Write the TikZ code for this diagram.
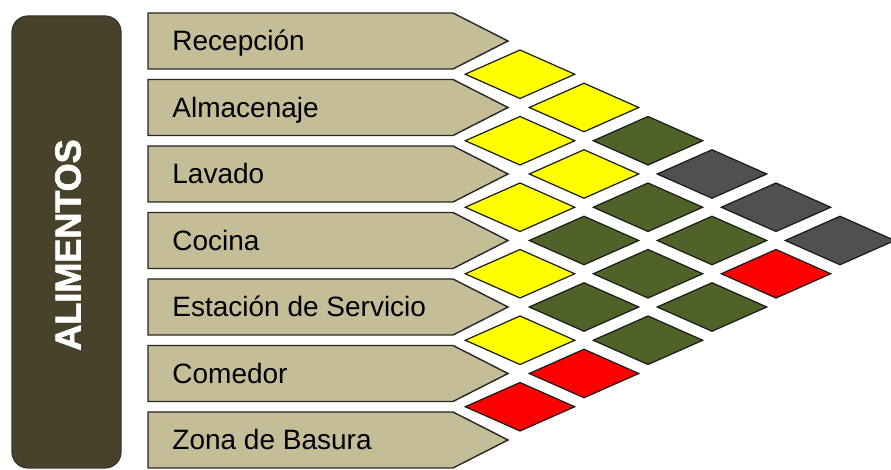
\documentclass[tikz,border=0pt]{standalone}
\usepackage{fontspec}
\setmainfont{Liberation Sans}
\newfontfamily\heavyfont[FakeBold=2]{Liberation Sans Bold}
\usepackage{tikz}
\usetikzlibrary{shapes.geometric}
\definecolor{areaColor}{RGB}{196,189,151}
\definecolor{sideColor}{RGB}{73,66,43}
\definecolor{yellowColor}{RGB}{255,255,0}
\definecolor{oliveColor}{RGB}{79,98,40}
\definecolor{grayColor}{RGB}{80,80,80}
\definecolor{redColor}{RGB}{255,0,0}

\begin{document}
\begin{tikzpicture}[
    x=0.5pt, y=-0.5pt,
    area/.style={draw=black!85, line width=0.7pt, fill=areaColor},
    txt/.style={anchor=base west, inner sep=0pt, font=\fontsize{14pt}{16pt}\selectfont},
    side/.style={rectangle, rounded corners=8pt, draw=black!80, line width=0.6pt, fill=sideColor, text=white, font=\fontsize{18pt}{20pt}\heavyfont},
    cell/.style={diamond, draw=black!90, line width=0.6pt, minimum width=55pt, minimum height=24.5pt, inner sep=0pt}
]
    \useasboundingbox (0,0) rectangle (891,470);

    % Side box
    \node[side, rotate=90, minimum width=226pt, minimum height=54.5pt] (alimentos) at (66.5,242) {};
    \node[rotate=90, text=white, font=\fontsize{18pt}{20pt}\heavyfont] (alimentostxt) at (68,245) {ALIMENTOS};

    % Areas
    \draw[area] (148,13) -- (453,13) -- (508,41) -- (453,69) -- (148,69) -- cycle;
    \draw[area] (148,79.5) -- (453,79.5) -- (508,107.5) -- (453,135.5) -- (148,135.5) -- cycle;
    \draw[area] (148,146) -- (453,146) -- (508,174) -- (453,202) -- (148,202) -- cycle;
    \draw[area] (148,212.5) -- (453,212.5) -- (508,240.5) -- (453,268.5) -- (148,268.5) -- cycle;
    \draw[area] (148,279) -- (453,279) -- (508,307) -- (453,335) -- (148,335) -- cycle;
    \draw[area] (148,345.5) -- (453,345.5) -- (508,373.5) -- (453,401.5) -- (148,401.5) -- cycle;
    \draw[area] (148,412) -- (453,412) -- (508,440) -- (453,468) -- (148,468) -- cycle;

    \node[txt] (recepcion) at (172,51) {Recepción};
    \node[txt] (almacenaje) at (172,117.5) {Almacenaje};
    \node[txt] (lavado) at (172,184) {Lavado};
    \node[txt] (cocina) at (172,250.5) {Cocina};
    \node[txt] (estacion) at (172,317) {Estación de Servicio};
    \node[txt] (comedor) at (172,383.5) {Comedor};
    \node[txt] (basura) at (172,450) {Zona de Basura};

    % Relations, first column
    \node[cell, fill=yellowColor] (c12) at (520,74.25) {};
    \node[cell, fill=yellowColor] (c23) at (520,140.75) {};
    \node[cell, fill=yellowColor] (c34) at (520,207.25) {};
    \node[cell, fill=yellowColor] (c45) at (520,273.75) {};
    \node[cell, fill=yellowColor] (c56) at (520,340.25) {};
    \node[cell, fill=redColor] (c67) at (520,406.75) {};

    % Second column
    \node[cell, fill=yellowColor] (c13) at (584,107.5) {};
    \node[cell, fill=yellowColor] (c24) at (584,174) {};
    \node[cell, fill=oliveColor] (c35) at (584,240.5) {};
    \node[cell, fill=oliveColor] (c46) at (584,307) {};
    \node[cell, fill=redColor] (c57) at (584,373.5) {};

    % Third column
    \node[cell, fill=oliveColor] (c14) at (648,140.75) {};
    \node[cell, fill=oliveColor] (c25) at (648,207.25) {};
    \node[cell, fill=oliveColor] (c36) at (648,273.75) {};
    \node[cell, fill=oliveColor] (c47) at (648,340.25) {};

    % Fourth column
    \node[cell, fill=grayColor] (c15) at (712,174) {};
    \node[cell, fill=oliveColor] (c26) at (712,240.5) {};
    \node[cell, fill=oliveColor] (c37) at (712,307) {};

    % Fifth and sixth columns
    \node[cell, fill=grayColor] (c16) at (776,207.25) {};
    \node[cell, fill=redColor] (c27) at (776,273.75) {};
    \node[cell, fill=grayColor] (c17) at (840,240.5) {};

\end{tikzpicture}
\end{document}
